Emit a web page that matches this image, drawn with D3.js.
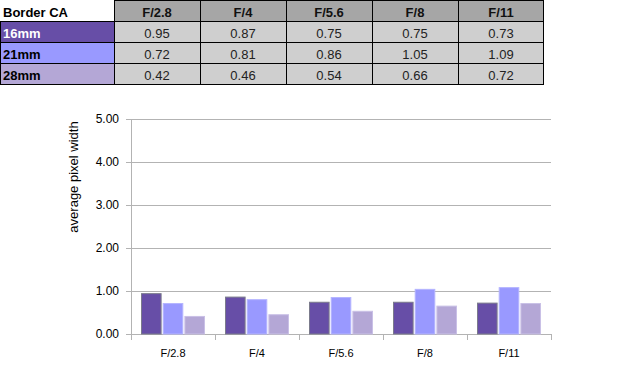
<!DOCTYPE html>
<html>
<head>
<meta charset="utf-8">
<script src="https://cdn.jsdelivr.net/npm/d3@7"></script>
<style>
  body { margin: 0; background: #fff; }
  svg { display: block; font-family: "Liberation Sans", Arial, sans-serif; }
</style>
</head>
<body>
<svg id="chart" width="630" height="372"></svg>
<script>
const apertures = ["F/2.8", "F/4", "F/5.6", "F/8", "F/11"];
const lenses = ["16mm", "21mm", "28mm"];
const values16 = [0.95, 0.87, 0.75, 0.75, 0.73];
const values21 = [0.72, 0.81, 0.86, 1.05, 1.09];
const values28 = [0.42, 0.46, 0.54, 0.66, 0.72];
const yTicks = [0, 1, 2, 3, 4, 5];

const series = [values16, values21, values28];
const fills = ["#674ea7", "#9999ff", "#b4a7d6"];
const strokes = ["#7b7b8c", "#b4b4ff", "#c9c0e6"];
const labelColors = ["#fff", "#000", "#000"];

const svg = d3.select("#chart");

//Table at the top
const colX = d3.scaleBand().domain(apertures).range([114, 544]);
const rowH = 21;

svg.append("text")
  .attr("x", 3).attr("y", rowH - 4)
  .attr("font-size", 13).attr("font-weight", "bold")
  .text("Border CA");

svg.selectAll(".hcell")
  .data(apertures)
  .enter()
  .append("rect")
  .attr("x", (d) => colX(d))
  .attr("y", 0)
  .attr("width", colX.bandwidth())
  .attr("height", rowH)
  .attr("fill", "#a6a6a6");

svg.selectAll(".htext")
  .data(apertures)
  .enter()
  .append("text")
  .attr("x", (d) => colX(d) + colX.bandwidth() / 2)
  .attr("y", rowH - 4)
  .attr("text-anchor", "middle")
  .attr("font-size", 13).attr("font-weight", "bold")
  .attr("fill", "#111")
  .text((d) => d);

lenses.forEach((lens, i) => {
  const y0 = rowH * (i + 1);
  svg.append("rect")
    .attr("x", 0).attr("y", y0)
    .attr("width", 114).attr("height", rowH)
    .attr("fill", fills[i]);
  svg.append("text")
    .attr("x", 3).attr("y", y0 + rowH - 4)
    .attr("font-size", 13).attr("font-weight", "bold")
    .attr("fill", labelColors[i])
    .text(lens);

  svg.selectAll(".cell" + i)
    .data(series[i])
    .enter()
    .append("rect")
    .attr("x", (d, j) => colX(apertures[j]))
    .attr("y", y0)
    .attr("width", colX.bandwidth())
    .attr("height", rowH)
    .attr("fill", "#cfcfcf");

  svg.selectAll(".val" + i)
    .data(series[i])
    .enter()
    .append("text")
    .attr("x", (d, j) => colX(apertures[j]) + colX.bandwidth() / 2)
    .attr("y", y0 + rowH - 4)
    .attr("text-anchor", "middle")
    .attr("font-size", 13)
    .attr("fill", "#222")
    .text((d) => d.toFixed(2));
});

const grid = svg.append("g").attr("stroke", "#000").attr("stroke-width", 1);
[1, 2, 3, 4].forEach((r) => {
  grid.append("line").attr("x1", 0).attr("x2", 544)
    .attr("y1", r * rowH + 0.5).attr("y2", r * rowH + 0.5);
});
grid.append("line").attr("x1", 114).attr("x2", 544).attr("y1", 0.5).attr("y2", 0.5);
grid.append("line").attr("x1", 0.5).attr("x2", 0.5).attr("y1", rowH).attr("y2", 4 * rowH);
apertures.forEach((a) => {
  grid.append("line").attr("x1", colX(a) + 0.5).attr("x2", colX(a) + 0.5)
    .attr("y1", 0).attr("y2", 4 * rowH);
});
grid.append("line").attr("x1", 543.5).attr("x2", 543.5).attr("y1", 0).attr("y2", 4 * rowH);

//Bar chart
const x = d3.scaleBand().domain(apertures).range([131, 551]);
const inner = d3.scaleBand().domain(d3.range(lenses.length)).range([10, 74]).paddingInner(0.05);
const y = d3.scaleLinear().domain([0, 5]).range([334, 119]);

const axisColor = "#b3b3b3";

svg.append("g")
  .selectAll("line")
  .data(yTicks)
  .enter()
  .append("line")
  .attr("x1", 126).attr("x2", 551)
  .attr("y1", (d) => Math.round(y(d)) + 0.5)
  .attr("y2", (d) => Math.round(y(d)) + 0.5)
  .attr("stroke", axisColor);

svg.append("line")
  .attr("x1", 131.5).attr("x2", 131.5)
  .attr("y1", 119).attr("y2", 340)
  .attr("stroke", axisColor);

svg.append("g")
  .selectAll("line")
  .data(apertures.slice(1).concat(["end"]))
  .enter()
  .append("line")
  .attr("x1", (d, i) => Math.round(131 + x.bandwidth() * (i + 1)) + 0.5)
  .attr("x2", (d, i) => Math.round(131 + x.bandwidth() * (i + 1)) + 0.5)
  .attr("y1", 334).attr("y2", 340)
  .attr("stroke", axisColor);

svg.append("g")
  .selectAll("text")
  .data(yTicks)
  .enter()
  .append("text")
  .attr("x", 119)
  .attr("y", (d) => y(d) + 4)
  .attr("text-anchor", "end")
  .attr("font-size", 12)
  .attr("fill", "#000")
  .text((d) => d.toFixed(2));

svg.append("g")
  .selectAll("text")
  .data(apertures)
  .enter()
  .append("text")
  .attr("x", (d) => x(d) + x.bandwidth() / 2)
  .attr("y", 357)
  .attr("text-anchor", "middle")
  .attr("font-size", 11)
  .text((d) => d);

svg.append("text")
  .attr("transform", "translate(78, 177) rotate(-90)")
  .attr("text-anchor", "middle")
  .attr("font-size", 13)
  .text("average pixel width");

series.forEach((vals, i) => {
  svg.append("g")
    .selectAll("rect")
    .data(vals)
    .enter()
    .append("rect")
    .attr("x", (d, j) => x(apertures[j]) + inner(i) + 0.5)
    .attr("y", (d) => y(d) + 0.5)
    .attr("width", inner.bandwidth() - 1)
    .attr("height", (d) => y(0) - y(d) - 0.5)
    .attr("fill", fills[i])
    .attr("stroke", strokes[i]);
});
</script>
</body>
</html>
